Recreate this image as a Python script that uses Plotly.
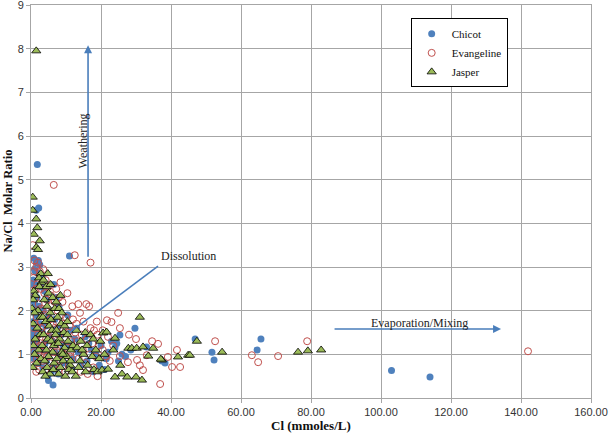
import plotly.graph_objects as go

# ---------------- data ----------------
chicot_x = [1.8, 2.2, 1.5, 0.8, 1.5, 2.5, 1.0, 2.0, 0.6, 1.2,
            2.8, 0.5, 1.7, 0.9, 2.3, 0.4, 1.4, 0.7, 2.6, 0.5,
            1.1, 2.0, 0.6, 1.6, 0.9, 2.4, 0.4, 1.3, 0.8, 1.9,
            3.2, 3.8, 4.5, 3.5, 5.0, 4.2, 3.3, 5.5, 4.0, 3.6,
            5.2, 4.4, 3.4, 5.8, 4.8, 5.0, 6.3, 6.5, 7.2, 8.0,
            6.8, 7.5, 8.6, 6.2, 9.2, 7.0, 8.4, 9.6, 6.6, 7.8,
            11.0, 10.5, 11.5, 12.5, 10.8, 13.5, 12.0, 14.2, 11.6, 13.0,
            15.5, 16.5, 17.2, 18.5, 16.0, 19.5, 21.0, 20.0, 22.0, 17.8,
            23.0, 24.0, 25.4, 26.0, 27.0, 25.0, 28.5, 29.7, 33.0, 24.5,
            37.4, 38.3, 46.9, 51.7, 52.3, 64.6, 65.7, 103.0, 114.0, 21.5,
            0.3, 0.5, 0.9, 0.4, 1.2, 0.3, 2.1, 0.7, 1.0, 0.3]
chicot_y = [5.35, 4.35, 4.3, 3.2, 3.1, 3.05, 2.95, 2.85, 2.7, 2.6,
            2.55, 2.4, 2.3, 2.2, 2.1, 2.0, 1.9, 1.75, 1.7, 1.6,
            1.5, 1.45, 1.35, 1.3, 1.2, 1.15, 1.05, 1.0, 0.9, 0.8,
            2.75, 2.45, 2.25, 2.0, 1.85, 1.65, 1.5, 1.4, 1.25, 1.1,
            1.0, 0.85, 0.7, 0.6, 0.5, 0.4, 0.3, 2.6, 2.3, 2.1,
            1.8, 1.6, 1.45, 1.3, 1.2, 1.05, 0.95, 0.8, 0.7, 0.55,
            3.25, 1.9, 1.55, 1.35, 1.2, 1.05, 0.9, 0.75, 0.65, 1.6,
            1.4, 1.25, 1.1, 1.0, 0.85, 0.75, 0.65, 1.2, 1.05, 0.6,
            1.3, 1.15, 1.44, 1.0, 0.95, 0.85, 1.1, 1.6, 1.17, 1.25,
            0.85, 0.8, 1.35, 1.05, 0.87, 1.1, 1.35, 0.63, 0.48, 0.9,
            1.7, 1.55, 1.62, 1.45, 2.9, 2.6, 3.15, 1.25, 2.05, 1.15]

evangeline_x = [6.5, 12.5, 17.0, 0.5, 142.0, 78.9, 70.6, 63.1, 64.9, 52.6,
                41.7, 42.6, 40.3, 39.1, 36.3, 34.6, 36.9, 32.0, 31.1, 30.3,
                27.7, 25.4, 33.1, 24.9, 21.7, 23.0, 25.4, 28.0, 30.0, 20.5,
                1.0, 2.0, 1.5, 2.5, 0.7, 1.8, 0.5, 2.8, 1.2, 2.2,
                0.6, 1.6, 2.7, 0.8, 2.0, 1.3, 2.5, 0.9, 1.7, 0.6,
                2.3, 1.1, 2.9, 0.4, 2.6, 1.4, 3.0, 0.9, 2.1, 1.5,
                3.5, 4.2, 5.0, 3.8, 4.6, 5.6, 3.3, 4.0, 5.3, 6.2,
                3.6, 4.8, 5.8, 3.2, 4.3, 6.0, 5.0, 3.9, 6.5, 4.6,
                3.4, 5.4, 6.3, 4.1, 5.7, 6.8, 3.1, 4.9, 6.6, 5.2,
                7.2, 8.0, 9.0, 7.6, 8.6, 10.0, 7.3, 9.4, 11.0, 8.2,
                10.5, 7.8, 9.6, 11.5, 8.8, 10.2, 7.4, 9.2, 11.2, 8.4,
                10.8, 7.9, 9.8, 11.8, 12.0, 10.4, 8.4, 7.0, 11.3, 9.1,
                13.5, 15.8, 16.6, 14.0, 13.0, 15.0, 17.0, 18.0, 19.0, 14.5,
                16.0, 13.2, 17.5, 19.5, 14.8, 16.8, 18.5, 13.6, 15.5, 17.8,
                14.2, 16.2, 19.0, 12.6, 18.8, 20.5, 21.5, 22.5, 23.5, 22.0]
evangeline_y = [4.88, 3.27, 3.1, 3.5, 1.07, 1.3, 0.96, 0.98, 0.82, 1.3,
                1.1, 0.71, 0.71, 0.94, 1.24, 1.3, 0.32, 0.64, 0.75, 0.87,
                0.82, 0.96, 0.98, 1.95, 1.78, 1.74, 1.6, 1.45, 1.35, 1.55,
                3.15, 3.1, 3.0, 2.9, 2.75, 2.6, 2.45, 2.5, 2.3, 2.15,
                2.0, 1.85, 1.75, 1.6, 1.45, 1.3, 1.2, 1.05, 0.9, 0.75,
                0.65, 1.7, 2.05, 1.25, 0.95, 2.5, 1.6, 2.9, 1.0, 0.6,
                2.95, 2.7, 2.55, 2.4, 2.25, 2.1, 2.0, 1.9, 1.8, 1.7,
                1.65, 1.55, 1.5, 1.4, 1.35, 1.3, 1.2, 1.1, 1.05, 0.95,
                0.85, 0.8, 0.7, 0.65, 2.35, 2.2, 1.2, 1.0, 1.6, 1.4,
                2.5, 2.3, 2.2, 2.0, 1.9, 1.85, 1.75, 1.7, 1.65, 1.6,
                1.5, 1.45, 1.35, 1.3, 1.2, 1.15, 1.05, 1.0, 0.95, 0.85,
                0.75, 0.65, 0.6, 2.1, 1.8, 2.4, 2.65, 1.35, 1.05, 1.55,
                2.15, 2.15, 2.1, 1.95, 1.7, 1.75, 1.6, 1.55, 1.45, 1.45,
                1.35, 1.3, 1.25, 1.2, 1.1, 1.0, 0.95, 0.9, 0.8, 0.7,
                0.6, 0.55, 0.5, 1.5, 1.75, 1.1, 0.95, 0.85, 1.2, 1.4]

jasper_x = [1.5, 0.5, 0.5, 1.5, 1.8, 0.8, 2.5, 1.5, 2.0, 0.3,
            2.8, 2.3, 3.0, 0.8, 2.4, 1.2, 0.6, 2.0, 1.0, 2.7,
            0.6, 1.8, 2.6, 1.2, 0.7, 2.2, 1.0, 2.8, 1.6, 0.5,
            3.6, 4.4, 5.0, 3.8, 4.6, 5.5, 3.4, 4.2, 5.2, 6.0,
            3.6, 4.8, 5.8, 3.2, 4.4, 6.2, 5.0, 3.9, 6.6, 4.6,
            3.4, 5.4, 6.4, 4.1, 5.7, 6.8, 6.2, 5.6, 4.8, 6.5,
            7.2, 8.0, 8.8, 7.6, 8.6, 9.6, 7.3, 9.4, 10.4, 8.2,
            10.6, 7.8, 9.6, 11.4, 8.8, 10.2, 7.4, 9.2, 11.2, 8.4,
            10.8, 7.9, 9.8, 11.8, 12.0, 10.4, 8.4, 7.0, 11.3, 9.1,
            13.0, 15.5, 17.0, 14.2, 13.2, 16.0, 18.5, 15.0, 17.5, 19.5,
            14.0, 16.2, 18.0, 13.6, 15.6, 19.0, 12.8, 14.6, 19.8, 17.8,
            20.6, 21.6, 24.0, 23.5, 27.8, 28.8, 30.2, 32.0, 34.9, 33.5,
            37.4, 42.0, 44.9, 20.3, 22.0, 24.0, 26.0, 27.5, 30.0, 31.7,
            31.1, 47.4, 45.4, 37.1, 54.6, 76.3, 79.1, 82.9, 21.0, 25.5]
jasper_y = [7.95, 4.6, 4.3, 4.1, 3.9, 3.75, 3.6, 3.45, 3.4, 2.05,
            2.85, 2.75, 2.65, 2.45, 2.55, 2.35, 2.25, 2.0, 1.95, 1.85,
            1.7, 1.6, 1.45, 1.35, 1.2, 1.1, 1.0, 0.9, 0.8, 0.7,
            2.7, 2.55, 2.4, 2.25, 2.1, 1.95, 1.85, 1.75, 1.65, 1.55,
            1.45, 1.35, 1.3, 1.2, 1.1, 1.05, 0.95, 0.85, 0.8, 0.7,
            0.6, 0.55, 0.65, 0.5, 1.8, 2.05, 2.3, 2.6, 2.85, 1.2,
            2.2, 2.05, 1.95, 1.85, 1.7, 1.65, 1.55, 1.5, 1.45, 1.35,
            1.3, 1.25, 1.15, 1.1, 1.05, 0.95, 0.9, 0.85, 0.75, 0.7,
            0.65, 0.55, 0.5, 0.6, 1.2, 1.75, 2.35, 1.45, 0.85, 1.0,
            1.55, 1.5, 1.45, 1.3, 1.15, 1.2, 1.1, 1.0, 0.95, 0.9,
            0.85, 0.75, 0.65, 0.7, 0.6, 0.6, 0.5, 1.1, 1.3, 1.35,
            1.49, 1.51, 1.37, 1.1, 1.14, 1.14, 1.14, 1.17, 1.14, 0.96,
            0.87, 0.94, 0.98, 0.64, 0.66, 0.48, 0.55, 0.48, 0.48, 0.41,
            1.85, 1.3, 0.98, 0.89, 1.05, 1.05, 1.08, 1.1, 1.0, 0.75]

x_ticks = [0, 20, 40, 60, 80, 100, 120, 140, 160]
y_ticks = [0, 1, 2, 3, 4, 5, 6, 7, 8, 9]

BLUE = "#4F81BD"
RED = "#C0504D"
GREEN = "#9BBB59"
ARROW = "#4A7EBB"
SERIF = "Liberation Serif, Times New Roman, serif"
SANS = "Liberation Sans, Arial, sans-serif"

fig = go.Figure()
fig.add_trace(go.Scatter(x=chicot_x, y=chicot_y, mode="markers", name="Chicot",
                         marker=dict(symbol="circle", size=7, color=BLUE,
                                     line=dict(width=0))))
fig.add_trace(go.Scatter(x=evangeline_x, y=evangeline_y, mode="markers", name="Evangeline",
                         marker=dict(symbol="circle-open", size=7, color=RED,
                                     line=dict(width=1, color=RED))))
fig.add_trace(go.Scatter(x=jasper_x, y=jasper_y, mode="markers", name="Jasper",
                         marker=dict(symbol="triangle-up", size=8, color=GREEN,
                                     line=dict(width=0.8, color="black"))))

# arrows / lines
fig.add_annotation(x=16.3, y=8.08, ax=16.3, ay=3.2, xref="x", yref="y", axref="x", ayref="y",
                   showarrow=True, arrowhead=2, arrowsize=1, arrowwidth=1.6,
                   arrowcolor=ARROW, text="")
fig.add_annotation(x=134.3, y=1.58, ax=86.3, ay=1.58, xref="x", yref="y", axref="x", ayref="y",
                   showarrow=True, arrowhead=2, arrowsize=1, arrowwidth=1.6,
                   arrowcolor=ARROW, text="")
fig.add_shape(type="line", x0=10.9, y0=1.49, x1=36.3, y1=3.02, xref="x", yref="y",
              line=dict(color=ARROW, width=1.6))

# labels
fig.add_annotation(x=14.9, y=5.88, xref="x", yref="y", text="Weathering", showarrow=False,
                   textangle=-90, font=dict(family=SERIF, size=12, color="#222"))
fig.add_annotation(x=45.1, y=3.25, xref="x", yref="y", text="Dissolution", showarrow=False,
                   font=dict(family=SERIF, size=12, color="#222"))
fig.add_annotation(x=110.9, y=1.72, xref="x", yref="y", text="Evaporation/Mixing", showarrow=False,
                   font=dict(family=SERIF, size=12, color="#222"))

# axis titles
fig.add_annotation(x=0.5, y=0, xref="paper", yref="paper", yshift=-27, text="<b>Cl (mmoles/L)</b>",
                   showarrow=False, yanchor="middle",
                   font=dict(family=SERIF, size=13, color="#111"))
fig.add_annotation(x=0, y=0.5, xref="paper", yref="paper", xshift=-24, text="<b>Na/Cl  Molar Ratio</b>",
                   showarrow=False, textangle=-90, xanchor="center",
                   font=dict(family=SERIF, size=12.5, color="#111"))

axis_common = dict(showgrid=True, gridcolor="#A6A6A6", gridwidth=1,
                   showline=True, linecolor="#A6A6A6", linewidth=1, mirror=True,
                   ticks="outside", ticklen=4, tickcolor="#A6A6A6",
                   ticklabeloverflow="allow",
                   zeroline=False, tickfont=dict(family=SANS, size=11, color="#333"))

fig.update_xaxes(range=[0, 160], tickvals=x_ticks, ticktext=[f"{v:.2f}" for v in x_ticks],
                 **axis_common)
fig.update_yaxes(range=[0, 9], tickvals=y_ticks, ticktext=[str(v) for v in y_ticks],
                 **axis_common)

fig.update_layout(
    width=609, height=436, autosize=False,
    margin=dict(l=31, r=18, t=5, b=38, autoexpand=False),
    plot_bgcolor="white", paper_bgcolor="white",
    showlegend=True,
    legend=dict(x=0.678, y=0.966, xanchor="left", yanchor="top",
                bgcolor="white", bordercolor="black", borderwidth=1,
                font=dict(family=SERIF, size=11, color="#111")),
)

fig.write_html("out.html", config={"displayModeBar": False},
               post_script="document.body.style.margin='0';document.body.style.overflow='hidden';")
